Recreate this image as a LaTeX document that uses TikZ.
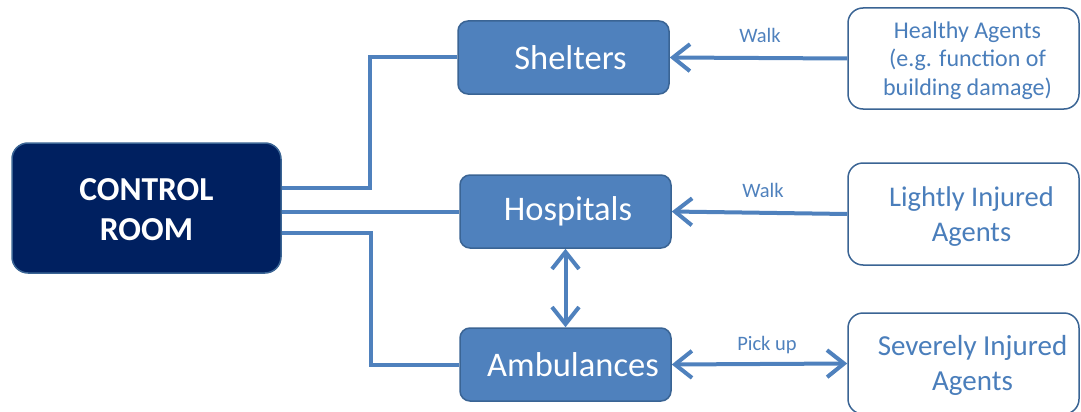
\documentclass[tikz,border=0pt]{standalone}
\usepackage{fontspec}
\setmainfont{Carlito}
\usetikzlibrary{arrows.meta}
\definecolor{ofblue}{HTML}{4F81BD}
\definecolor{ofborder}{HTML}{3A6494}
\definecolor{navyfill}{HTML}{002060}
\definecolor{agtext}{HTML}{4A7EBB}
\tikzset{barbtip/.tip={Straight Barb[length=17pt,width=27pt,line width=4pt]}}
\begin{document}
\begin{tikzpicture}[x=1pt,y=-1pt,
  ctrlbox/.style={draw=ofborder,line width=1.5pt,fill=navyfill,rounded corners=16pt,
    minimum width=269pt,minimum height=130pt,inner sep=0pt},
  ctrltxt/.style={inner sep=0pt,align=center,text=white,
    font=\fontsize{33.5}{40}\selectfont\bfseries},
  facbox/.style={draw=ofborder,line width=1.5pt,fill=ofblue,rounded corners=10pt,
    minimum width=211pt,minimum height=73pt,inner sep=0pt,align=center,text=white,
    font=\fontsize{34.5}{40}\selectfont},
  agbox/.style={draw=ofborder,line width=1.5pt,fill=white,rounded corners=15pt,
    minimum width=231pt,inner sep=0pt},
  agtxt/.style={inner sep=0pt,align=center,text=agtext},
  conn/.style={draw=ofblue,line width=4pt},
  lbl/.style={text=ofblue,font=\fontsize{20.5}{24}\selectfont,inner sep=0pt}]
\useasboundingbox (0,0) rectangle (1081,412);
\clip (0,0) rectangle (1081,412);
% nodes
\node[ctrlbox] (ctrl) at (146.5,208) {};
\node[ctrltxt] (ctrlt) at ([yshift=-2pt]ctrl.center) {CONTROL\\ROOM};
\node[facbox] (shel) at (563.5,57.5) {\hspace*{14pt}Shelters};
\node[facbox] (hosp) at (565.5,211.5) {\hspace*{5pt}Hospitals};
\node[facbox] (amb) at (565.5,364.5) {\hspace*{15pt}Ambulances};
\node[agbox,minimum height=101pt] (heal) at (963.5,58.5) {};
\node[agbox,minimum height=102pt] (light) at (963.5,214) {};
\node[agbox,minimum height=101pt] (sev) at (963.5,363.5) {};
\node[agtxt,font=\fontsize{24}{28.5}\selectfont] (healt) at ([xshift=4pt,yshift=-2pt]heal.center)
  {Healthy Agents\\(e.g. function of\\building damage)};
\node[agtxt,font=\fontsize{28.5}{35}\selectfont] (lightt) at ([xshift=8pt,yshift=-3pt]light.center)
  {Lightly Injured\\Agents};
\node[agtxt,font=\fontsize{29}{35}\selectfont] (sevt) at ([xshift=9pt,yshift=-2pt]sev.center)
  {Severely Injured\\Agents};
% connectors from control room
\draw[conn] ([yshift=20pt]ctrl.east) -- ++(88,0) |- (shel.west);
\draw[conn] (ctrl.east |- hosp.west) -- (hosp.west);
\draw[conn] ([yshift=-25pt]ctrl.east) -- ++(89,0) |- (amb.west);
% arrows
\draw[conn,-{barbtip}] (heal.west) -- (shel.east);
\draw[conn,-{barbtip}] (light.west) -- (hosp.east);
\draw[conn,{barbtip}-{barbtip}] (hosp.south) -- (amb.north);
\draw[conn,{barbtip}-{barbtip}] (amb.east) -- (sev.west);
% labels
\node[lbl] (w1) at (760,35) {Walk};
\node[lbl] (w2) at (763,190) {Walk};
\node[lbl] (pu) at (767,345) {Pick up};
\end{tikzpicture}
\end{document}
